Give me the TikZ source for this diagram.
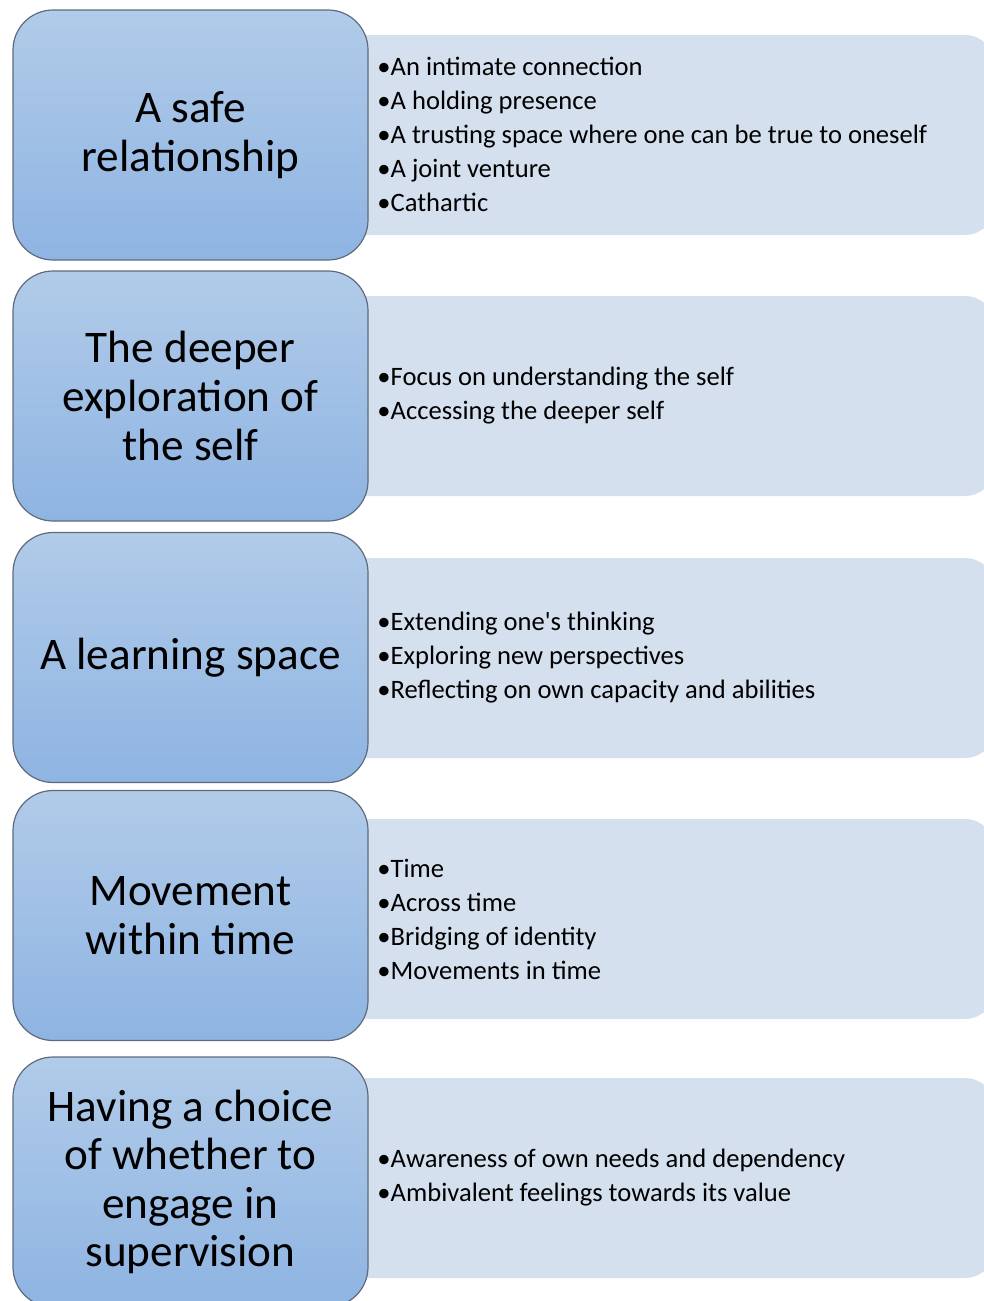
\documentclass[tikz,border=0pt]{standalone}
\usepackage{fontspec}
\setmainfont{Carlito}[Ligatures=TeXOff]

\definecolor{boxtop}{HTML}{B1CBE9}
\definecolor{boxbottom}{HTML}{8EB4E2}
\definecolor{boxline}{HTML}{5F6B7C}
\definecolor{panelfill}{HTML}{D5E0EF}

\begin{document}
\begin{tikzpicture}[
    x=0.5pt, y=-0.5pt,
    theme box/.style={draw=boxline, line width=0.6pt, rounded corners=20pt,
        top color=boxtop, bottom color=boxbottom,
        minimum width=177.5pt, minimum height=125pt, inner sep=0pt,
        align=center, font=\fontsize{22.6}{24.3}\selectfont},
    detail panel/.style={fill=panelfill, rounded corners=15pt,
        minimum width=347.5pt, minimum height=100pt},
    detail list/.style={anchor=west, align=left, inner sep=0pt,
        font=\fontsize{13.3}{17}\selectfont}
]

% Frame
\useasboundingbox (0,0) rectangle (984,1301);
\clip (0,0) rectangle (984,1301);

% Panels behind the themes
\node[detail panel] (safe panel) at (647.5,135) {};
\node[detail panel] (deeper panel) at (647.5,396) {};
\node[detail panel] (learning panel) at (647.5,658) {};
\node[detail panel] (movement panel) at (647.5,919) {};
\node[detail panel] (choice panel) at (647.5,1178) {};

% Themes
\node[theme box] (safe) at (190.5,135) {A safe\\relationship};
\node[theme box] (deeper) at (190.5,396) {The deeper\\exploration of\\the self};
\node[theme box] (learning) at (190.5,657.5) {A learning space};
\node[theme box] (movement) at (190.5,915.5) {Movement\\within time};
\node[theme box] (choice) at (190.5,1182) {Having a choice\\of whether to\\engage in\\supervision};

% Sub-themes
\node[detail list] (safe list) at (377,134) {•An intimate connection\\
    •A holding presence\\
    •A trusting space where one can be true to oneself\\
    •A joint venture\\
    •Cathartic};
\node[detail list] (deeper list) at (377,396) {•Focus on understanding the self\\
    •Accessing the deeper self};
\node[detail list] (learning list) at (377,658) {•Extending one's thinking\\
    •Exploring new perspectives\\
    •Reflecting on own capacity and abilities};
\node[detail list] (movement list) at (377,919) {•Time\\
    •Across time\\
    •Bridging of identity\\
    •Movements in time};
\node[detail list] (choice list) at (377,1178) {•Awareness of own needs and dependency\\
    •Ambivalent feelings towards its value};

\end{tikzpicture}
\end{document}
